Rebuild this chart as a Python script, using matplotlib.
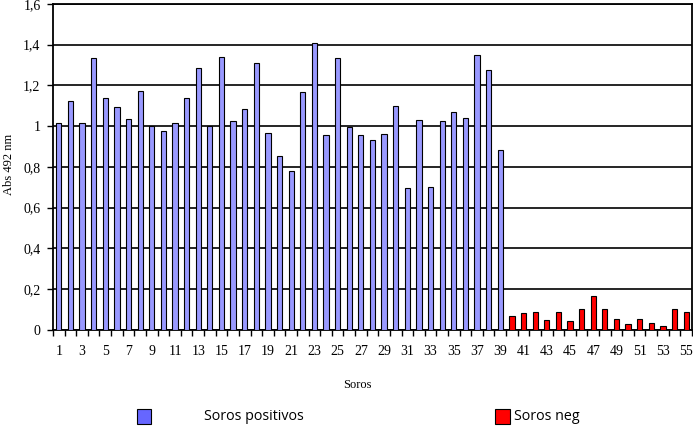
import matplotlib.pyplot as plt
from matplotlib.patches import Rectangle
from matplotlib.ticker import FixedLocator, FuncFormatter

# absorbance (Abs 492 nm) per serum sample
soros_pos = list(range(1, 40))
abs_pos = [1.017, 1.124, 1.017, 1.332, 1.139, 1.094, 1.036, 1.171, 1.0, 0.978,
           1.013, 1.139, 1.283, 1.0, 1.337, 1.023, 1.085, 1.310, 0.968, 0.854,
           0.780, 1.167, 1.409, 0.957, 1.332, 0.996, 0.957, 0.934, 0.962, 1.099,
           0.697, 1.029, 0.703, 1.024, 1.067, 1.040, 1.348, 1.276, 0.885]
soros_neg = list(range(40, 56))
abs_neg = [0.067, 0.085, 0.09, 0.05, 0.09, 0.045, 0.102, 0.168, 0.102, 0.055,
           0.027, 0.055, 0.035, 0.017, 0.102, 0.09]
yticks = [0, 0.2, 0.4, 0.6, 0.8, 1.0, 1.2, 1.4, 1.6]

serif = 'Liberation Serif'
sans = 'Open Sans'

fig = plt.figure(figsize=(6.93, 4.34), dpi=100)
ax = fig.add_axes([0.0765, 0.240, 0.922, 0.751])

ax.bar(soros_pos, abs_pos, width=0.45, color='#9999ff', edgecolor='black', linewidth=0.8, zorder=3)
ax.bar(soros_neg, abs_neg, width=0.45, color='#ff0000', edgecolor='black', linewidth=0.8, zorder=3)

ax.set_xlim(0.5, 55.5)
ax.set_ylim(0, 1.6)
ax.set_yticks(yticks)
ax.yaxis.set_major_formatter(FuncFormatter(lambda v, p: ('%g' % round(v, 1)).replace('.', ',')))
ax.yaxis.grid(True, color='black', linewidth=1.2, zorder=1)

# odd labels centred on bars, tick marks at category boundaries
ax.set_xticks(list(range(1, 56, 2)))
ax.tick_params(axis='x', which='major', length=0, pad=11)
ax.xaxis.set_minor_locator(FixedLocator([i + 0.5 for i in range(0, 56)]))
ax.tick_params(axis='x', which='minor', length=4, width=1, direction='out')
ax.tick_params(axis='y', length=4, width=1, direction='out', pad=5)
for lab in ax.get_xticklabels() + ax.get_yticklabels():
    lab.set_fontfamily(serif)
    lab.set_fontsize(10)

for s in ['left', 'bottom', 'top', 'right']:
    ax.spines[s].set_linewidth(1.3)

fig.text(0.516, 0.113, 'Soros', family=serif, fontsize=9, ha='center', va='center')
fig.text(0.013, 0.62, 'Abs 492 nm', family=serif, fontsize=9, rotation=90, ha='center', va='center')

# legend drawn as in the original layout
fig.patches.append(Rectangle((0.197, 0.022), 0.021, 0.035, transform=fig.transFigure,
                             facecolor='#6666ff', edgecolor='black', linewidth=0.8))
fig.text(0.295, 0.040, 'Soros positivos', family=sans, fontsize=10.3, ha='left', va='center')
fig.patches.append(Rectangle((0.715, 0.022), 0.021, 0.035, transform=fig.transFigure,
                             facecolor='#ff0000', edgecolor='black', linewidth=0.8))
fig.text(0.741, 0.040, 'Soros neg', family=sans, fontsize=10.3, ha='left', va='center')

fig.savefig('out.png', dpi=100)
